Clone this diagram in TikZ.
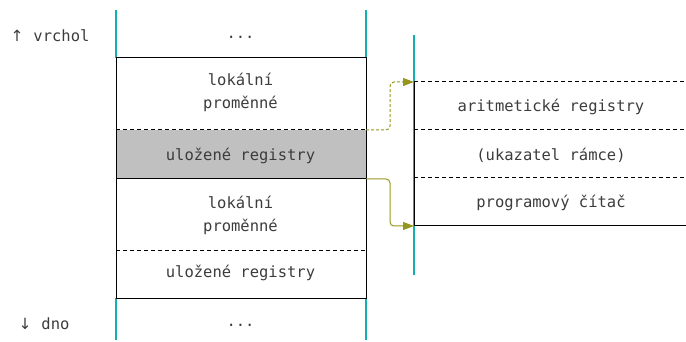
\documentclass[tikz,border=0pt]{standalone}
\usepackage{fontspec}
\setmonofont{DejaVu Sans Mono}
\newfontfamily\arrowfont{DejaVu Sans}
\usetikzlibrary{arrows.meta,positioning}
\definecolor{cyanline}{RGB}{20,176,176}
\definecolor{olive}{RGB}{150,150,30}
\definecolor{cellgray}{RGB}{192,192,192}
\definecolor{textgray}{RGB}{60,60,60}

\begin{document}
\begin{tikzpicture}[x=1pt,y=-1pt,line width=1pt,
                    cell/.style={inner sep=0pt,align=center,text=textgray,
                      font=\ttfamily\fontsize{15.5}{23}\selectfont},
                    border/.style={black},
                    sep/.style={black,dash pattern=on 4pt off 3pt},
                    rim/.style={cyanline,line width=1.2pt},
                    link/.style={olive,rounded corners=4pt,-{Triangle[length=11pt,width=8pt]}}]
      \useasboundingbox (0,0) rectangle (686,342);

      % left column
      \coordinate (L1) at (116,58);  \coordinate (R1) at (366,58);
      \coordinate (L2) at (116,130); \coordinate (R2) at (366,130);
      \coordinate (L3) at (116,179); \coordinate (R3) at (366,179);
      \coordinate (L4) at (116,250); \coordinate (R4) at (366,250);
      \coordinate (L5) at (116,298); \coordinate (R5) at (366,298);
      \fill[cellgray] (L2) rectangle (R3);
      \draw[rim] (116,10) -- (L1) (366,10) -- (R1);
      \draw[rim] (L5) -- (116,340) (R5) -- (366,340);
      \draw[border] (L1) -- (R1) -- (R5) -- (L5) -- cycle;
      \draw[sep] (L2) -- (R2);
      \draw[border] (L3) -- (R3);
      \draw[sep] (L4) -- (R4);

      \node[cell] (topdots) at (240.5,37) {...};
      \node[cell] (loc1) at (240.5,92) {lokální\\proměnné};
      \node[cell] (sav1) at (240.5,156) {uložené registry};
      \node[cell] (loc2) at (240.5,215) {lokální\\proměnné};
      \node[cell] (sav2) at (240.5,273) {uložené registry};
      \node[cell] (botdots) at (240.5,325) {...};
      \node[cell] (top) at (50,36) {{\arrowfont ↑}\hspace{10pt}vrchol};
      \node[cell] (bottom) at (44,324) {{\arrowfont ↓}\hspace{10pt}dno};

      % right column (frame)
      \coordinate (F1) at (414,82);  \coordinate (G1) at (686,82);
      \coordinate (F2) at (414,130); \coordinate (G2) at (686,130);
      \coordinate (F3) at (414,178); \coordinate (G3) at (686,178);
      \coordinate (F4) at (414,226); \coordinate (G4) at (686,226);
      \draw[rim] (414,35) -- (414,275);
      \draw[border] (F1) -- (F4);
      \draw[sep] (F1) -- (G1) (F2) -- (G2) (F3) -- (G3);
      \draw[border] (F4) -- (G4);

      \node[cell] (arith) at (551,107) {aritmetické registry};
      \node[cell] (fptr) at (551,155) {(ukazatel rámce)};
      \node[cell] (pc) at (551,203) {programový čítač};

      % links
      \draw[link,dash pattern=on 3pt off 2pt] (R2) -- (390,130) -- (390,82) -- (F1);
      \draw[link] (R3) -- (390,179) -- (390,226) -- (F4);
    \end{tikzpicture}
\end{document}
